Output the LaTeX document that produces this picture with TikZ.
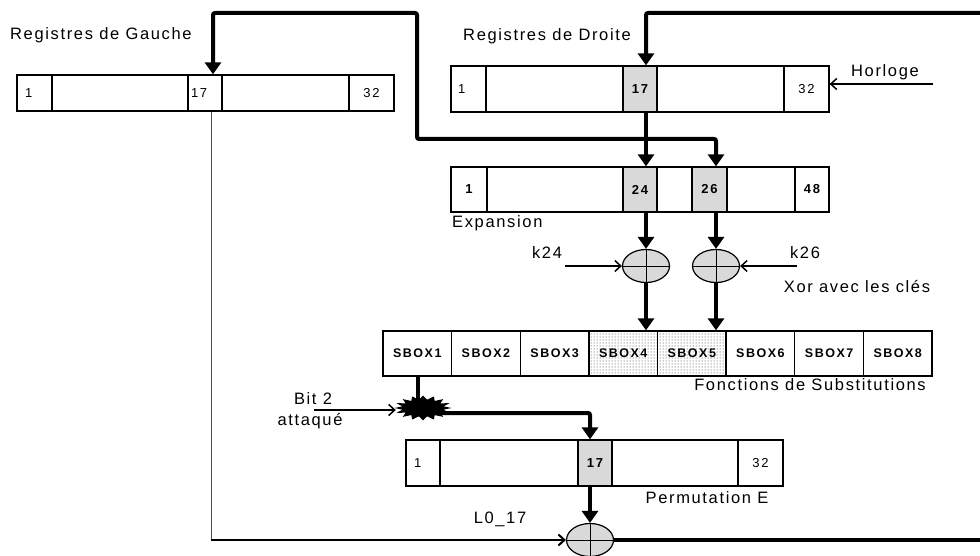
\documentclass[tikz,border=0pt]{standalone}
\usepackage{fontspec}
\setmainfont{Liberation Sans}
\newfontfamily\lbl{Liberation Sans}[LetterSpace=10]
\newfontfamily\cel{Liberation Sans}[LetterSpace=12]
\usetikzlibrary{arrows.meta,shapes.geometric,patterns,calc}
\begin{document}
\begin{tikzpicture}[x=1pt,y=-1pt,
  cell/.style={draw,line width=1.3pt,inner sep=0pt,font=\cel\fontsize{13}{14}\selectfont},
  bcell/.style={cell,font=\cel\bfseries\fontsize{13}{14}\selectfont},
  sbox/.style={cell,font=\cel\bfseries\fontsize{12.5}{13}\selectfont,minimum width=68.6pt,minimum height=45pt},
  lcell/.style={align=left,text width=#1},
  shade/.style={fill=black!15},
  dotfill/.style={pattern=dots,pattern color=black!85},
  xorop/.style={ellipse,draw,line width=1.2pt,fill=black!15,minimum width=47pt,minimum height=33pt,inner sep=0pt,
    path picture={\draw[line width=1pt] (path picture bounding box.north) -- (path picture bounding box.south)
      (path picture bounding box.west) -- (path picture bounding box.east);}},
  bigarrow/.style={line width=4pt,-{Triangle[width=16pt,length=12pt]},rounded corners=2pt},
  bigline/.style={line width=4pt},
  barb/.style={line width=1.5pt,-{Straight Barb[length=6pt,width=11pt]}},
  lab/.style={font=\lbl\fontsize{16.5}{18}\selectfont,inner sep=0pt}]
\useasboundingbox (0,0) rectangle (980,556);

% Left register
\node[cell,minimum width=35,minimum height=36,lcell=19pt] (L1) at (34.5,93) {1};
\node[cell,minimum width=136,minimum height=36] (L2) at (120,93) {};
\node[cell,minimum width=34,minimum height=36,lcell=28pt] (L17) at (205,93) {17};
\node[cell,minimum width=127,minimum height=36] (L4) at (285.5,93) {};
\node[cell,minimum width=45,minimum height=36] (L32) at (371.5,93) {32};
\node[lab,anchor=west] (tL) at (10,35) {Registres de Gauche};

% Right register
\node[cell,minimum width=35,minimum height=46,lcell=21pt] (R1) at (468.5,89) {1};
\node[cell,minimum width=137,minimum height=46] (R2) at (554.5,89) {};
\node[bcell,shade,minimum width=34,minimum height=46] (R17) at (640,89) {17};
\node[cell,minimum width=127,minimum height=46] (R4) at (720.5,89) {};
\node[cell,minimum width=45,minimum height=46] (R32) at (806.5,89) {32};
\node[lab,anchor=west] (tR) at (463,36) {Registres de Droite};
\node[lab] (hor) at (885,72) {Horloge};

% Expansion
\node[bcell,minimum width=36,minimum height=45] (E1) at (469,189.5) {1};
\node[bcell,minimum width=136,minimum height=45] (E2) at (555,189.5) {};
\node[bcell,shade,minimum width=34,minimum height=45] (E24) at (640,189.5) {24};
\node[bcell,minimum width=35,minimum height=45] (E4) at (674.5,189.5) {};
\node[bcell,shade,minimum width=35,minimum height=45] (E26) at (709.5,189.5) {26};
\node[bcell,minimum width=68,minimum height=45] (E6) at (761,189.5) {};
\node[bcell,minimum width=34,minimum height=45] (E48) at (812,189.5) {48};
\node[lab,anchor=west] (tE) at (452,223) {Expansion};

% Xors with keys
\node[xorop] (X1) at (646,266) {};
\node[xorop] (X2) at (716,266) {};
\node[lab] (k24) at (547,253) {k24};
\node[lab] (k26) at (805,253) {k26};
\node[lab] (txor) at (857,287) {Xor avec les clés};

% S-boxes
\node[sbox] (S1) at (417.3,353.5) {SBOX1};
\node[sbox] (S2) at (485.9,353.5) {SBOX2};
\node[sbox] (S3) at (554.6,353.5) {SBOX3};
\node[sbox,dotfill] (S4) at (623.2,353.5) {SBOX4};
\node[sbox,dotfill] (S5) at (691.8,353.5) {SBOX5};
\node[sbox] (S6) at (760.4,353.5) {SBOX6};
\node[sbox] (S7) at (829.1,353.5) {SBOX7};
\node[sbox] (S8) at (897.7,353.5) {SBOX8};
\node[lab] (tS) at (810,385) {Fonctions de Substitutions};

% Attack
\node[inner sep=0pt,minimum width=56pt,minimum height=24pt] (star) at (423,408) {};
\fill[black,shift={(star.center)}] plot[samples at={0,...,31},variable=\i]
  ({(mod(\i,2)==0 ? 28.5 : 21)*cos(\i*11.25)},{(mod(\i,2)==0 ? 12.5 : 8.5)*sin(\i*11.25)}) -- cycle;
\node[lab] (bit) at (313,399) {Bit 2};
\node[lab] (att) at (310,421) {attaqué};

% Permutation
\node[cell,minimum width=34,minimum height=46,lcell=18pt] (P1) at (423,463) {1};
\node[cell,minimum width=138,minimum height=46] (P2) at (509,463) {};
\node[bcell,shade,minimum width=34,minimum height=46] (P17) at (595,463) {17};
\node[cell,minimum width=126,minimum height=46] (P4) at (675,463) {};
\node[cell,minimum width=45,minimum height=46] (P32) at (760.5,463) {32};
\node[lab] (tP) at (707,498) {Permutation E};

\node[xorop] (X3) at (590,540) {};
\node[lab] (l017) at (500,519) {L0\_17};

% Coordinates
\coordinate (j) at (646,139);
\coordinate (c1) at (417,13);
\coordinate (tr) at (982,13);
\coordinate (br) at (982,540);
\coordinate (hz) at (933,84);
\coordinate (k24s) at (565,266);
\coordinate (k26s) at (797,266);
\coordinate (b2) at (314,410);
\coordinate (lc) at ([xshift=6pt]L17.south);

% Connectors
\draw[bigarrow] (tr) -| ([xshift=6pt]R17.north);
\draw[bigarrow] ([xshift=6pt]R17.south) -- ([xshift=6pt]E24.north);
\draw[bigarrow] (j) -| (c1) -| ([xshift=8pt]L17.north);
\draw[bigarrow] (j) -| (X2.north |- E26.north);
\draw[barb] (hz) -- ([yshift=5pt]R32.east);

\draw[bigarrow] (E24.south -| X1.north) -- (X1.north);
\draw[bigarrow] (E26.south -| X2.north) -- (X2.north);
\draw[barb] (k24s) -- (X1.west);
\draw[barb] (k26s) -- (X2.east);
\draw[bigarrow] (X1.south) -- (X1.south |- S4.north);
\draw[bigarrow] (X2.south) -- (X2.south |- S5.north);

\draw[bigline] ([xshift=1pt]S1.south) -- ([xshift=1pt]S1.south |- star.center);
\draw[barb] (b2) -- ([xshift=1pt]b2 -| star.west);
\draw[bigarrow] ([yshift=-5pt]star.center) -| ([xshift=-5pt]P17.north);
\draw[bigarrow] ([xshift=-5pt]P17.south) -- (X3.north);

\draw[line width=1pt,black!70] (lc) -- ([yshift=-1pt]lc |- X3.west);
\draw[line width=2pt,-{Straight Barb[length=6pt,width=11pt]}] ([xshift=-0.5pt]lc |- X3.west) -- (X3.west);
\draw[bigline] (X3.east) -- (br);
\end{tikzpicture}
\end{document}
